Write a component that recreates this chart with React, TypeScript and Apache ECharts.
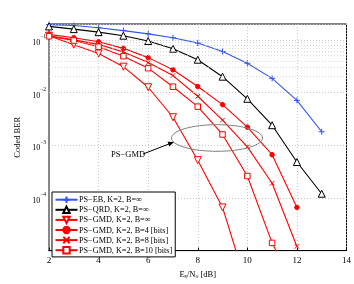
import React, { useEffect, useRef } from "react";
import * as echarts from "echarts";

const snr = [2, 3, 4, 5, 6, 7, 8, 9, 10, 11, 12, 13];
const berEB = [0.195, 0.187, 0.17, 0.15, 0.13, 0.11, 0.087, 0.06, 0.036, 0.0186, 0.0071, 0.0018];
const berQRD = [0.18, 0.16, 0.14, 0.12, 0.095, 0.068, 0.042, 0.02, 0.0076, 0.0024, 4.8e-4, 1.2e-4];
const berGMDInf = [0.12, 0.081, 0.055, 0.031, 0.0126, 0.0034, 5.2e-4, 6.6e-5, 2e-6];
const berGMD4 = [0.127, 0.11, 0.092, 0.069, 0.046, 0.027, 0.013, 0.0059, 0.0022, 6.6e-4, 6.6e-5];
const berGMD8 = [0.12, 0.1, 0.082, 0.059, 0.037, 0.021, 0.0085, 0.003, 9.3e-4, 1.9e-4, 1.2e-5];
const berGMD10 = [0.117, 0.097, 0.074, 0.049, 0.029, 0.0129, 0.0054, 0.0016, 2.6e-4, 1.4e-5, 1.6e-6];

const names = [
  "PS\u2212EB, K=2, B=\u221e",
  "PS\u2212QRD, K=2, B=\u221e",
  "PS\u2212GMD, K=2, B=\u221e",
  "PS\u2212GMD, K=2, B=4 [bits]",
  "PS\u2212GMD, K=2, B=8 [bits]",
  "PS\u2212GMD, K=2, B=10 [bits]",
];

const FONT = '"Liberation Serif", "DejaVu Serif", serif';
const BLUE = "#3355ee";
const RED = "#ff0000";

const pair = (ys: number[]) => ys.map((y, i) => [snr[i], y]);

export default function App() {
  const ref = useRef<HTMLDivElement>(null);
  useEffect(() => {
    document.body.style.margin = "0";
    const chart = echarts.init(ref.current!, null, { renderer: "svg" });
    const minorLines: number[] = [];
    for (let e = -5; e <= -1; e++) {
      for (let k = 2; k <= 9; k++) {
        const v = k * Math.pow(10, e);
        if (v <= 0.2) minorLines.push(v);
      }
    }
    const mk = (
      name: string,
      data: number[],
      color: string,
      symbol: string,
      size: number,
      fill: string,
      rotate = 0
    ) => ({
      name,
      type: "line",
      data: pair(data),
      symbol,
      symbolSize: size,
      symbolRotate: rotate,
      clip: true,
      z: 3,
      lineStyle: { color, width: 1.1 },
      itemStyle: { color: fill, borderColor: color, borderWidth: 1 },
      emphasis: { disabled: true },
    });
    chart.setOption({
      animation: false,
      grid: {
        left: 49,
        right: 7,
        top: 24,
        bottom: 25.3,
        show: true,
        borderColor: "#000",
        borderWidth: 1,
        backgroundColor: "#fff",
      },
      xAxis: {
        type: "value",
        min: 2,
        max: 14,
        interval: 2,
        name: "E{sub|s}/N{sub|o} [dB]",
        nameLocation: "middle",
        nameGap: 15,
        nameTextStyle: {
          fontFamily: FONT,
          fontSize: 8.5,
          color: "#000",
          rich: { sub: { fontFamily: FONT, fontSize: 6, verticalAlign: "bottom", padding: [4, 0, 0, 0] } },
        },
        axisLine: { show: true, lineStyle: { color: "#000", width: 1 } },
        axisTick: { show: true, inside: true, length: 3, lineStyle: { color: "#000" } },
        axisLabel: { fontFamily: FONT, fontSize: 9, color: "#000", margin: 5 },
        splitLine: { show: true, lineStyle: { color: "#bbb", type: [1, 2], width: 0.8 } },
      },
      yAxis: {
        type: "log",
        logBase: 10,
        min: 1e-5,
        max: 0.2,
        name: "Coded BER",
        nameLocation: "middle",
        nameGap: 19,
        nameTextStyle: { fontFamily: FONT, fontSize: 8.5, color: "#000" },
        axisLine: { show: true, lineStyle: { color: "#888", width: 2 } },
        axisTick: { show: false },
        axisLabel: {
          fontFamily: FONT,
          fontSize: 8,
          color: "#000",
          margin: 3,
          formatter: (v: number) => {
            const l = Math.log10(v);
            const e = Math.round(l);
            if (Math.abs(l - e) > 1e-6 || e <= -5) return "";
            return `{b|10}{s|${e < 0 ? "\u2212" + -e : e}}`;
          },
          rich: {
            b: { fontFamily: FONT, fontSize: 8, color: "#000", verticalAlign: "bottom", lineHeight: 13 },
            s: { fontFamily: FONT, fontSize: 5.5, color: "#000", verticalAlign: "top", lineHeight: 13 },
          },
        },
        splitLine: { show: true, lineStyle: { color: "#bbb", type: [1, 2], width: 0.8 } },
      },
      legend: {
        orient: "vertical",
        left: 52,
        top: 192,
        itemWidth: 22,
        itemHeight: 8,
        itemGap: 1.7,
        padding: [3.5, 3, 2.5, 2.5],
        borderColor: "#000",
        borderWidth: 1,
        backgroundColor: "#fff",
        align: "left",
        textStyle: { fontFamily: FONT, fontSize: 8.2, lineHeight: 8, color: "#000", padding: [0, 0, 0, -3.5] },
        data: names,
        z: 10,
      },
      series: [
        {
          name: "grid-minor",
          type: "line",
          data: [],
          silent: true,
          z: 1,
          markLine: {
            silent: true,
            symbol: "none",
            label: { show: false },
            animation: false,
            lineStyle: { color: "#ccc", type: [1, 2], width: 0.7 },
            data: minorLines.map((v) => ({ yAxis: v })),
          },
        },
        mk(names[0], berEB, BLUE, "path://M5,0L5,10M0,5L10,5", 6, BLUE),
        mk(names[1], berQRD, "#000", "triangle", 7, "#fff"),
        mk(names[2], berGMDInf, RED, "triangle", 7, "#fff", 180),
        mk(names[3], berGMD4, RED, "circle", 4.5, RED),
        mk(names[4], berGMD8, RED, "path://M0,0L10,10M10,0L0,10", 4.5, RED),
        mk(names[5], berGMD10, RED, "rect", 5.5, "#fff"),
      ],
      graphic: [
        {
          type: "ellipse",
          shape: { cx: 217, cy: 138, rx: 45.5, ry: 13.3 },
          style: { fill: "none", stroke: "#808080", lineWidth: 1 },
          z: 50,
        },
        {
          type: "line",
          shape: { x1: 143, y1: 154, x2: 170, y2: 143.6 },
          style: { stroke: "#000", lineWidth: 1 },
          z: 50,
        },
        {
          type: "polygon",
          shape: { points: [[174, 142], [169.3, 146.5], [167.5, 141.8]] },
          style: { fill: "#000" },
          z: 50,
        },
        {
          type: "text",
          x: 111,
          y: 154,
          style: { text: "PS\u2212GMD", font: `8.5px ${FONT}`, fill: "#000", verticalAlign: "middle" },
          z: 50,
        },
      ],
    });
    return () => chart.dispose();
  }, []);
  return <div ref={ref} style={{ width: 354, height: 284, position: "fixed", left: 0, top: 0 }} />;
}
